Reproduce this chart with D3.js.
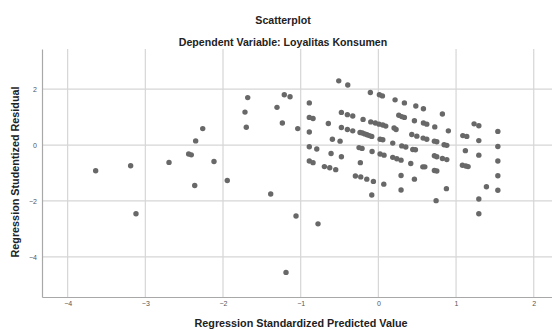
<!DOCTYPE html>
<html>
<head>
<meta charset="utf-8">
<script src="https://cdn.jsdelivr.net/npm/d3@7"></script>
<style>
  body { margin: 0; background: #fff; }
  text { font-family: "Liberation Sans", Arial, sans-serif; }
</style>
</head>
<body>
<svg id="chart"></svg>
<script>
// titles
const title = "Scatterplot";
const subtitle = "Dependent Variable: Loyalitas Konsumen";
const xLabel = "Regression Standardized Predicted Value";
const yLabel = "Regression Studentized Residual";

const xTicks = [-4, -3, -2, -1, 0, 1, 2];
const yTicks = [-4, -2, 0, 2];

// predicted (standardized) values
const predicted = [
  -3.639, -3.189, -3.120, -2.695, -2.442, -2.408, -2.352, -2.364,
  -2.261, -2.116, -1.945, -1.682, -1.717, -1.700, -1.386, -1.305,
  -1.211, -1.137, -1.236, -1.038, -1.060, -1.189, -0.889, -0.889,
  -0.841, -0.889, -0.889, -0.793, -0.889, -0.841, -0.777,
  -0.510, -0.394, -0.644, -0.592, -0.493, -0.609, -0.476, -0.695,
  -0.626, -0.549, -0.476, -0.399, -0.330, -0.197,
  -0.098, -0.039, 0.009, 0.057, 0.095, 0.202, 0.228,
  -0.476, -0.399, -0.330,
  -0.236, -0.206, -0.175, -0.146, -0.116, -0.085,
  0.022, 0.057, 0.185, 0.301, 0.353, 0.443, 0.477,
  -0.249, -0.210, -0.081, 0.022, 0.073, 0.185, 0.237, 0.292, 0.417,
  0.572, 0.598, -0.232, -0.296, -0.227, -0.149, -0.064, 0.070, -0.085,
  0.292, 0.292, 0.464, -0.103, 0.013, 0.052, 0.215, 0.335, 0.482,
  0.580, 0.263, 0.301, 0.335, 0.464, 0.580, 0.623, 0.430, 0.495,
  0.576, 0.623,
  0.726, 0.824, 0.901, 0.721, 0.752, 0.846, 0.881, 0.721, 0.752,
  0.824, 0.881, 0.721, 0.752, 0.876, 0.743, 1.087, 1.138, 1.120,
  1.082, 1.126, 1.155, 1.232, 1.293, 1.293, 1.293, 1.391, 1.293,
  1.293, 1.538, 1.538, 1.538, 1.538, 1.538
];

// studentized residuals, same order
const residual = [
  -0.92, -0.74, -2.46, -0.62, -0.32, -0.35, 0.15, -1.45,
  0.59, -0.59, -1.27, 1.70, 1.18, 0.64, -1.75, 1.35,
  1.80, 1.73, 0.79, 0.59, -2.54, -4.56, 1.51, 0.99,
  0.95, 0.47, -0.06, -0.14, -0.57, -0.63, -2.82,
  2.30, 2.15, 0.77, 0.21, 0.14, -0.30, -0.42, -0.77,
  -0.81, -0.88, 1.17, 1.09, 1.04, 0.92,
  0.83, 0.79, 0.75, 0.72, 0.68, 0.61, 0.56,
  0.63, 0.56, 0.51,
  0.45, 0.43, 0.40, 0.37, 0.34, 0.31,
  0.21, 0.19, 0.07, -0.03, -0.07, -0.16, -0.17,
  -0.09, -0.12, -0.23, -0.32, -0.36, -0.44, -0.49, -0.54, -0.66,
  -0.78, -0.78, -0.63, -1.11, -1.14, -1.22, -1.30, -1.40, -1.79,
  -1.09, -1.61, -1.22, 1.88, 1.80, 1.76, 1.62, 1.51, 1.40,
  1.30, 1.07, 1.02, 0.99, 0.87, 0.79, 0.75, 0.38, 0.32,
  0.25, 0.21,
  0.65, 1.11, 0.51, 0.14, 0.12, 0.01, -0.01, -0.38, -0.42,
  -0.48, -0.52, -0.91, -0.93, -1.56, -1.99, 0.34, 0.31, -0.20,
  -0.72, -0.75, -0.77, 0.76, 0.69, 0.16, -0.36, -1.49, -1.93,
  -2.46, 0.49, -0.05, -0.57, -1.10, -1.62
];

const points = predicted.map((p, i) => ({ x: p, y: residual[i] }));

const W = 552, H = 329;
const margin = { top: 49, right: 0, bottom: 32, left: 42 };

const svg = d3.select('#chart')
  .attr('width', W)
  .attr('height', H);

const x = d3.scaleLinear()
  .domain([-4.33, 2.235])
  .range([margin.left, W - margin.right]);

const y = d3.scaleLinear()
  .domain([-5.44, 3.44])
  .range([H - margin.bottom, margin.top]);

// gridlines
svg.append('g')
  .selectAll('line')
  .data(xTicks)
  .enter()
  .append('line')
    .attr('x1', d => x(d)).attr('x2', d => x(d))
    .attr('y1', margin.top).attr('y2', H - margin.bottom)
    .attr('stroke', '#d6d6d6')
    .attr('stroke-width', 1.2);

svg.append('g')
  .selectAll('line')
  .data(yTicks)
  .enter()
  .append('line')
    .attr('x1', margin.left).attr('x2', W)
    .attr('y1', d => y(d)).attr('y2', d => y(d))
    .attr('stroke', '#d6d6d6')
    .attr('stroke-width', 1.2);

// axes
const xAxis = svg.append('g')
  .attr('transform', `translate(0,${H - margin.bottom})`)
  .call(d3.axisBottom(x).tickValues(xTicks).tickFormat(d3.format('d')).tickSize(0).tickPadding(4));
const yAxis = svg.append('g')
  .attr('transform', `translate(${margin.left},0)`)
  .call(d3.axisLeft(y).tickValues(yTicks).tickFormat(d3.format('d')).tickSize(0).tickPadding(5));

[xAxis, yAxis].forEach(a => {
  a.select('.domain').attr('stroke', '#a8a8a8').attr('stroke-width', 1.2);
  a.selectAll('text')
    .attr('fill', '#555')
    .style('font-size', '7px')
    .style('font-family', '"Liberation Sans", Arial, sans-serif');
});

// points
svg.append('g')
  .selectAll('circle')
  .data(points)
  .enter()
  .append('circle')
    .attr('cx', d => x(d.x))
    .attr('cy', d => y(d.y))
    .attr('r', 2.7)
    .attr('fill', '#686868');

// titles
svg.append('text')
  .attr('x', 283).attr('y', 24)
  .attr('text-anchor', 'middle')
  .attr('font-size', '10.6px')
  .attr('font-weight', 'bold')
  .attr('fill', '#222')
  .text(title);

svg.append('text')
  .attr('x', 283).attr('y', 45.5)
  .attr('text-anchor', 'middle')
  .attr('font-size', '10.6px')
  .attr('font-weight', 'bold')
  .attr('fill', '#222')
  .text(subtitle);

svg.append('text')
  .attr('x', 301).attr('y', 327)
  .attr('text-anchor', 'middle')
  .attr('font-size', '10.8px')
  .attr('font-weight', 'bold')
  .attr('fill', '#222')
  .text(xLabel);

svg.append('text')
  .attr('transform', `translate(19,172) rotate(-90)`)
  .attr('text-anchor', 'middle')
  .attr('font-size', '10.8px')
  .attr('font-weight', 'bold')
  .attr('fill', '#222')
  .text(yLabel);
</script>
</body>
</html>
